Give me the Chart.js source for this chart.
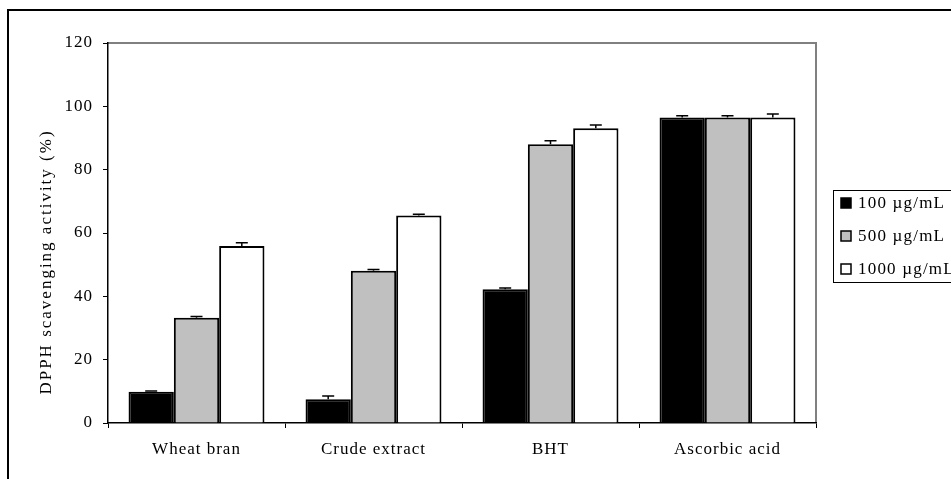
<!DOCTYPE html>
<html>
<head>
<meta charset="utf-8">
<script src="https://cdn.jsdelivr.net/npm/chart.js@4/dist/chart.umd.min.js"></script>
<style>
  html, body { margin: 0; padding: 0; background: #fff; }
  #c { display: block; }
</style>
</head>
<body>
<canvas id="c" width="951" height="479"></canvas>
<script>
const categories = ['Wheat bran', 'Crude extract', 'BHT', 'Ascorbic acid'];
const seriesNames = ['100 \u00b5g/mL', '500 \u00b5g/mL', '1000 \u00b5g/mL'];
const values100 = [9.9, 7.5, 42.2, 96.5];
const values500 = [33.2, 48.1, 88.0, 96.5];
const values1000 = [55.9, 65.5, 93.1, 96.5];
const errors100 = [0.2, 1.0, 0.4, 0.5];
const errors500 = [0.4, 0.4, 1.1, 0.5];
const errors1000 = [1.0, 0.4, 1.0, 1.1];
const yTicks = [0, 20, 40, 60, 80, 100, 120];
const yTitle = 'DPPH scavenging activity (%)';

const FONT = '"Liberation Serif", "Times New Roman", serif';
const FS = 17;
const fills = ['#000000', '#c0c0c0', '#ffffff'];
const allValues = [values100, values500, values1000];
const allErrors = [errors100, errors500, errors1000];

const PAD_LEFT = 0, PAD_TOP = 43, PAD_RIGHT = 135, PAD_BOTTOM = 0;
const AREA_LEFT = 108, AREA_BOTTOM = 423;

const frame = {
  id: 'frame',
  beforeDraw(chart) {
    const ctx = chart.ctx;
    ctx.save();
    ctx.fillStyle = '#fff';
    ctx.fillRect(0, 0, chart.width, chart.height);
    ctx.strokeStyle = '#000';
    ctx.lineWidth = 2;
    ctx.strokeRect(8, 10, 2000, 2000);
    const a = chart.chartArea;
    ctx.strokeStyle = '#808080';
    ctx.lineWidth = 2;
    ctx.beginPath();
    ctx.moveTo(a.left, a.top);
    ctx.lineTo(a.right, a.top);
    ctx.lineTo(a.right, a.bottom);
    ctx.stroke();
    ctx.restore();
    ctx.letterSpacing = '1px';
  },
  afterDraw(chart) {
    const ctx = chart.ctx;
    ctx.letterSpacing = '0px';
    // y axis title
    const a = chart.chartArea;
    ctx.save();
    ctx.letterSpacing = '2px';
    ctx.font = FS + 'px ' + FONT;
    ctx.fillStyle = '#000';
    ctx.textAlign = 'center';
    ctx.textBaseline = 'middle';
    ctx.translate(47, 262);
    ctx.rotate(-Math.PI / 2);
    ctx.fillText(yTitle, 0, 0);
    ctx.restore();
    ctx.letterSpacing = '0px';
  }
};

const errorBars = {
  id: 'errorBars',
  afterDatasetsDraw(chart) {
    const ctx = chart.ctx;
    const y = chart.scales.y;
    ctx.save();
    ctx.strokeStyle = '#000';
    ctx.lineWidth = 1.5;
    chart.data.datasets.forEach((ds, di) => {
      const meta = chart.getDatasetMeta(di);
      meta.data.forEach((bar, i) => {
        const v = ds.data[i];
        const e = allErrors[di][i];
        const yt = y.getPixelForValue(v + e);
        ctx.beginPath();
        ctx.moveTo(bar.x, bar.y);
        ctx.lineTo(bar.x, yt);
        ctx.moveTo(bar.x - 6, yt);
        ctx.lineTo(bar.x + 6, yt);
        ctx.stroke();
      });
    });
    ctx.restore();
  }
};

const boxLegend = {
  id: 'boxLegend',
  afterDraw(chart) {
    const ctx = chart.ctx;
    ctx.save();
    const bx = 833, by = 190, bh = 92, rowH = 33;
    ctx.strokeStyle = '#000';
    ctx.lineWidth = 1;
    ctx.strokeRect(bx + 0.5, by + 0.5, 200, bh);
    ctx.letterSpacing = '1.2px';
    ctx.font = FS + 'px ' + FONT;
    ctx.textBaseline = 'middle';
    ctx.textAlign = 'left';
    seriesNames.forEach((name, i) => {
      const cy = by + 13 + i * rowH;
      ctx.fillStyle = fills[i];
      ctx.fillRect(841, cy - 5, 10, 10);
      ctx.strokeStyle = '#000';
      ctx.lineWidth = 1.5;
      ctx.strokeRect(841, cy - 5, 10, 10);
      ctx.fillStyle = '#000';
      ctx.fillText(name, 858, cy + 1);
    });
    ctx.restore();
    ctx.letterSpacing = '0px';
  }
};

new Chart(document.getElementById('c'), {
  type: 'bar',
  data: {
    labels: categories,
    datasets: seriesNames.map((name, i) => ({
      label: name,
      data: allValues[i],
      backgroundColor: fills[i],
      borderColor: '#000',
      borderWidth: 2,
      borderSkipped: 'bottom',
      categoryPercentage: 0.768,
      barPercentage: 1.0
    }))
  },
  options: {
    responsive: false,
    animation: false,
    events: [],
    layout: { padding: { left: PAD_LEFT, top: PAD_TOP, right: PAD_RIGHT, bottom: PAD_BOTTOM } },
    plugins: { legend: { display: false }, tooltip: { enabled: false } },
    scales: {
      x: {
        grid: { display: true, drawOnChartArea: false, tickLength: 5, color: '#000', lineWidth: 1 },
        border: { display: true, color: '#000', width: 1.5 },
        ticks: { color: '#000', font: { family: FONT, size: FS }, padding: 11, maxRotation: 0 },
        afterFit(scale) { scale.height = 479 - PAD_BOTTOM - AREA_BOTTOM; }
      },
      y: {
        min: 0, max: 120,
        afterBuildTicks(scale) { scale.ticks = yTicks.map(v => ({ value: v })); },
        grid: { display: true, drawOnChartArea: false, tickLength: 5, color: '#000', lineWidth: 1 },
        border: { display: true, color: '#000', width: 1.5 },
        ticks: { color: '#000', font: { family: FONT, size: FS }, padding: 10 },
        title: { display: false, text: yTitle },
        afterFit(scale) { scale.width = AREA_LEFT - PAD_LEFT; }
      }
    }
  },
  plugins: [frame, errorBars, boxLegend]
});
</script>
</body>
</html>
